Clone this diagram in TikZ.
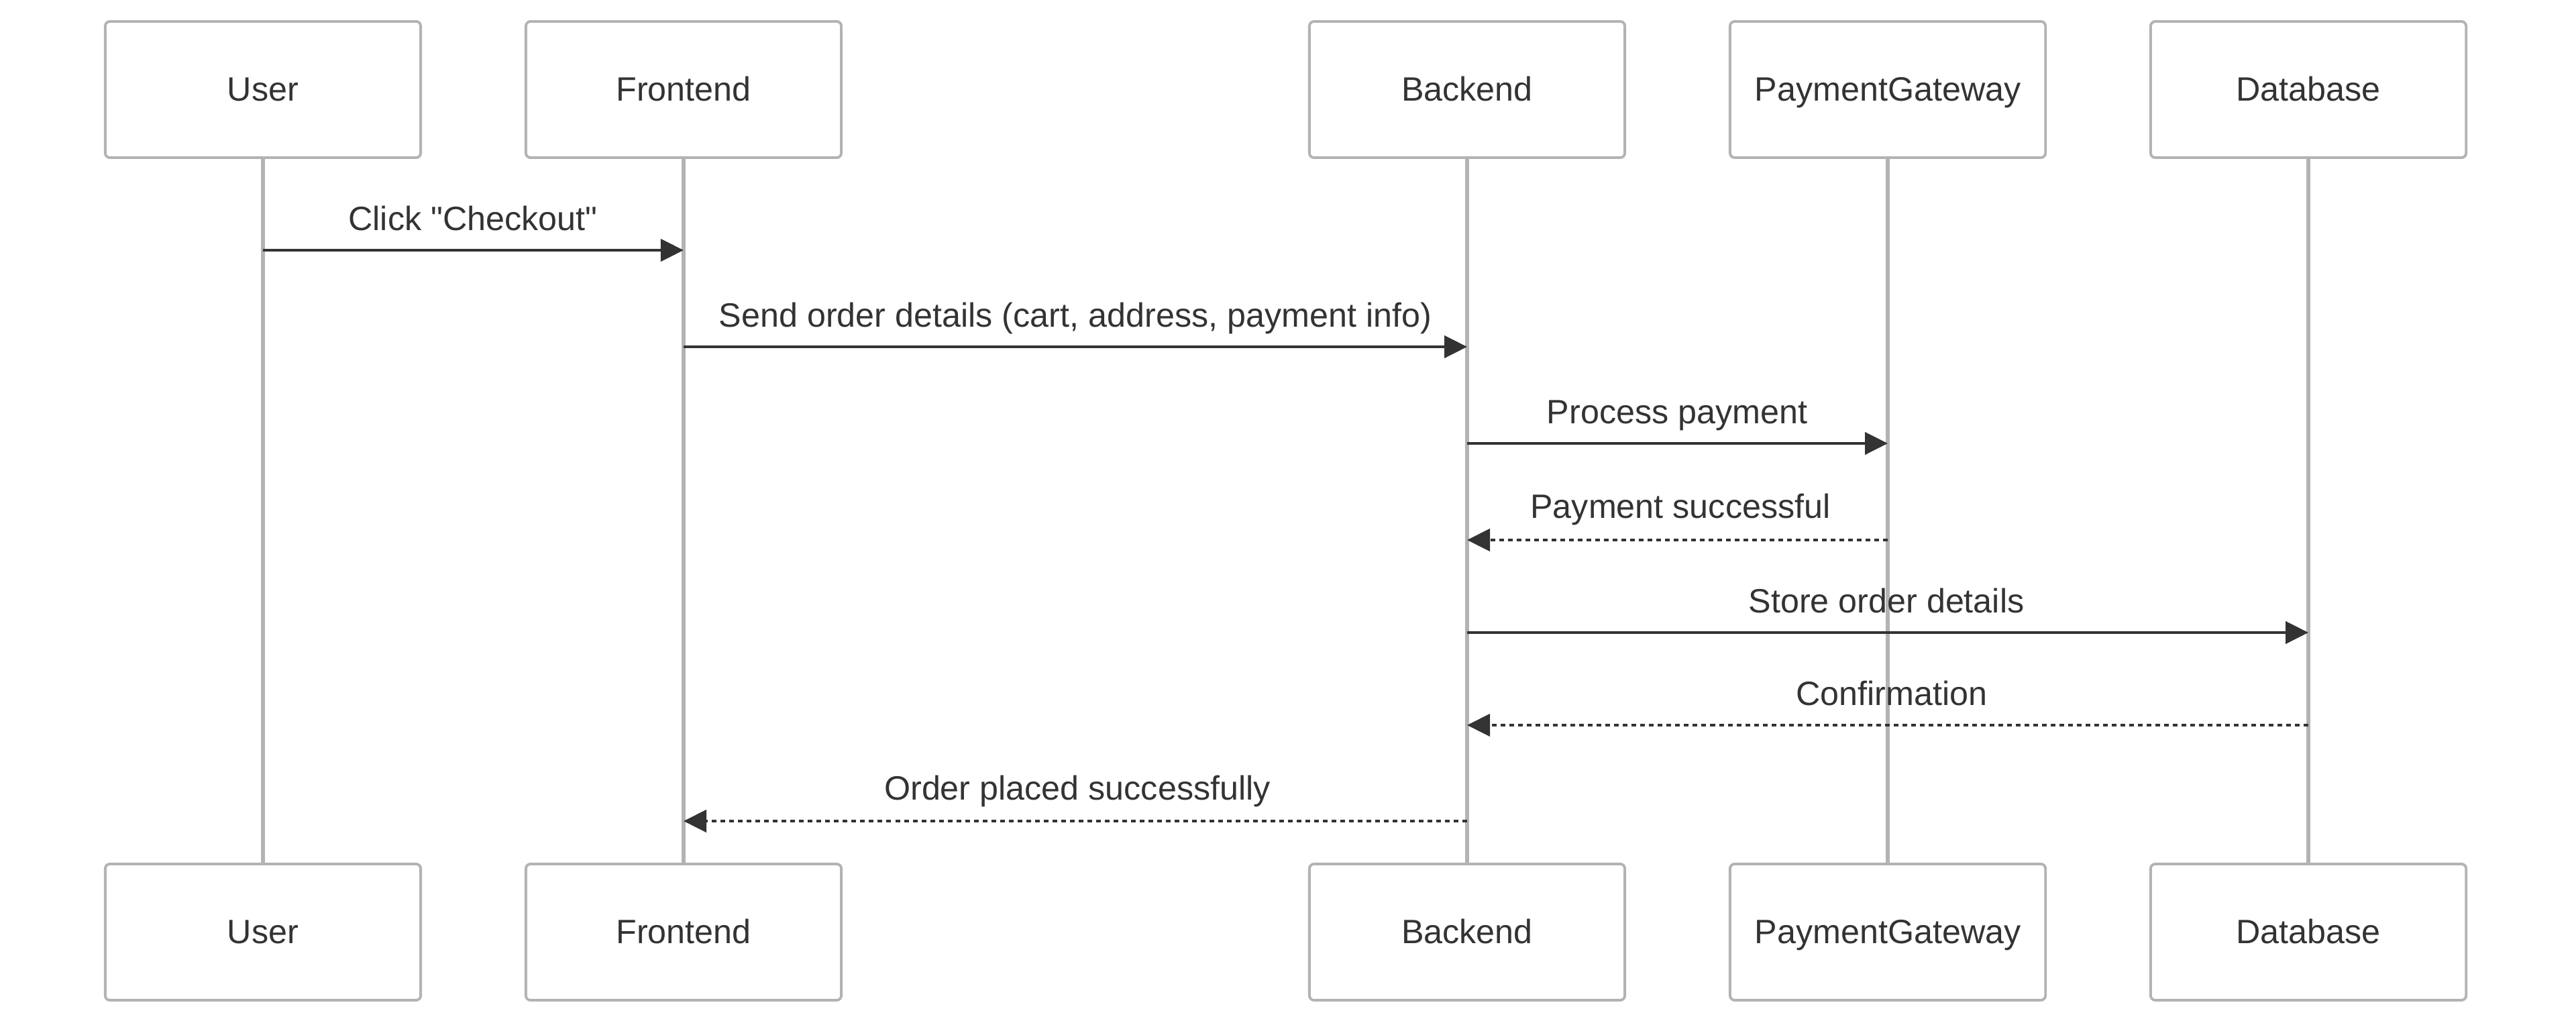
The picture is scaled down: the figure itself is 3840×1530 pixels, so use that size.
\documentclass[tikz,border=0pt]{standalone}
\usepackage{fontspec}
\setmainfont{Liberation Sans}[Ligatures=TeXOff]
\usetikzlibrary{arrows.meta}
\definecolor{txt}{HTML}{333333}
\definecolor{lifegray}{HTML}{B3B3B3}
\begin{document}
\begin{tikzpicture}[x=0.01cm,y=-0.01cm,
  actor/.style={draw=lifegray,line width=1.1pt,fill=white,rounded corners=0.07cm,
    minimum width=4.7cm,minimum height=2.03cm,inner sep=0pt,
    text height=12.8pt,text depth=3pt,
    font=\fontsize{14.3}{16}\selectfont,text=txt},
  life/.style={draw=lifegray,line width=1.5pt},
  msg/.style={draw=txt,line width=1.3pt,-{Triangle[length=0.34cm,width=0.33cm]}},
  reply/.style={msg,dash pattern=on 0.07cm off 0.06cm},
  lbl/.style={font=\fontsize{14.3}{16}\selectfont,text=txt,anchor=base,inner sep=0pt}]
\useasboundingbox[fill=white] (0,0) rectangle (3840,1530);
% actors
\foreach \n/\x/\t in {u/392/User,f/1019/Frontend,b/2187/Backend,p/2814/PaymentGateway,d/3441/Database}{
  \node[actor] (\n top) at (\x,133.5) {\t};
  \node[actor] (\n bot) at (\x,1389.5) {\t};
}
% lifelines
\foreach \n in {u,f,b,p,d}{
  \draw[life] (\n top.south) -- (\n bot.north);
}
% message endpoints
\coordinate (m1a) at (392,373);  \coordinate (m1b) at (1019,373);
\coordinate (m2a) at (1019,517); \coordinate (m2b) at (2187,517);
\coordinate (m3a) at (2187,661); \coordinate (m3b) at (2814,661);
\coordinate (m4a) at (2814,805); \coordinate (m4b) at (2187,805);
\coordinate (m5a) at (2187,943); \coordinate (m5b) at (3441,943);
\coordinate (m6a) at (3441,1081); \coordinate (m6b) at (2187,1081);
\coordinate (m7a) at (2187,1224); \coordinate (m7b) at (1019,1224);
\draw[msg] (m1a) -- (m1b);
\draw[msg] (m2a) -- (m2b);
\draw[msg] (m3a) -- (m3b);
\draw[reply] (m4a) -- (m4b);
\draw[msg] (m5a) -- (m5b);
\draw[reply] (m6a) -- (m6b);
\draw[reply] (m7a) -- (m7b);
% labels
\node[lbl] (l1) at (705,343) {Click "Checkout"};
\node[lbl] (l2) at (1603,487) {Send order details (cart, address, payment info)};
\node[lbl] (l3) at (2500,631) {Process payment};
\node[lbl] (l4) at (2505,772) {Payment successful};
\node[lbl] (l5) at (2812,913) {Store order details};
\node[lbl] (l6) at (2820,1051) {Confirmation};
\node[lbl] (l7) at (1606,1192) {Order placed successfully};
\end{tikzpicture}
\end{document}
